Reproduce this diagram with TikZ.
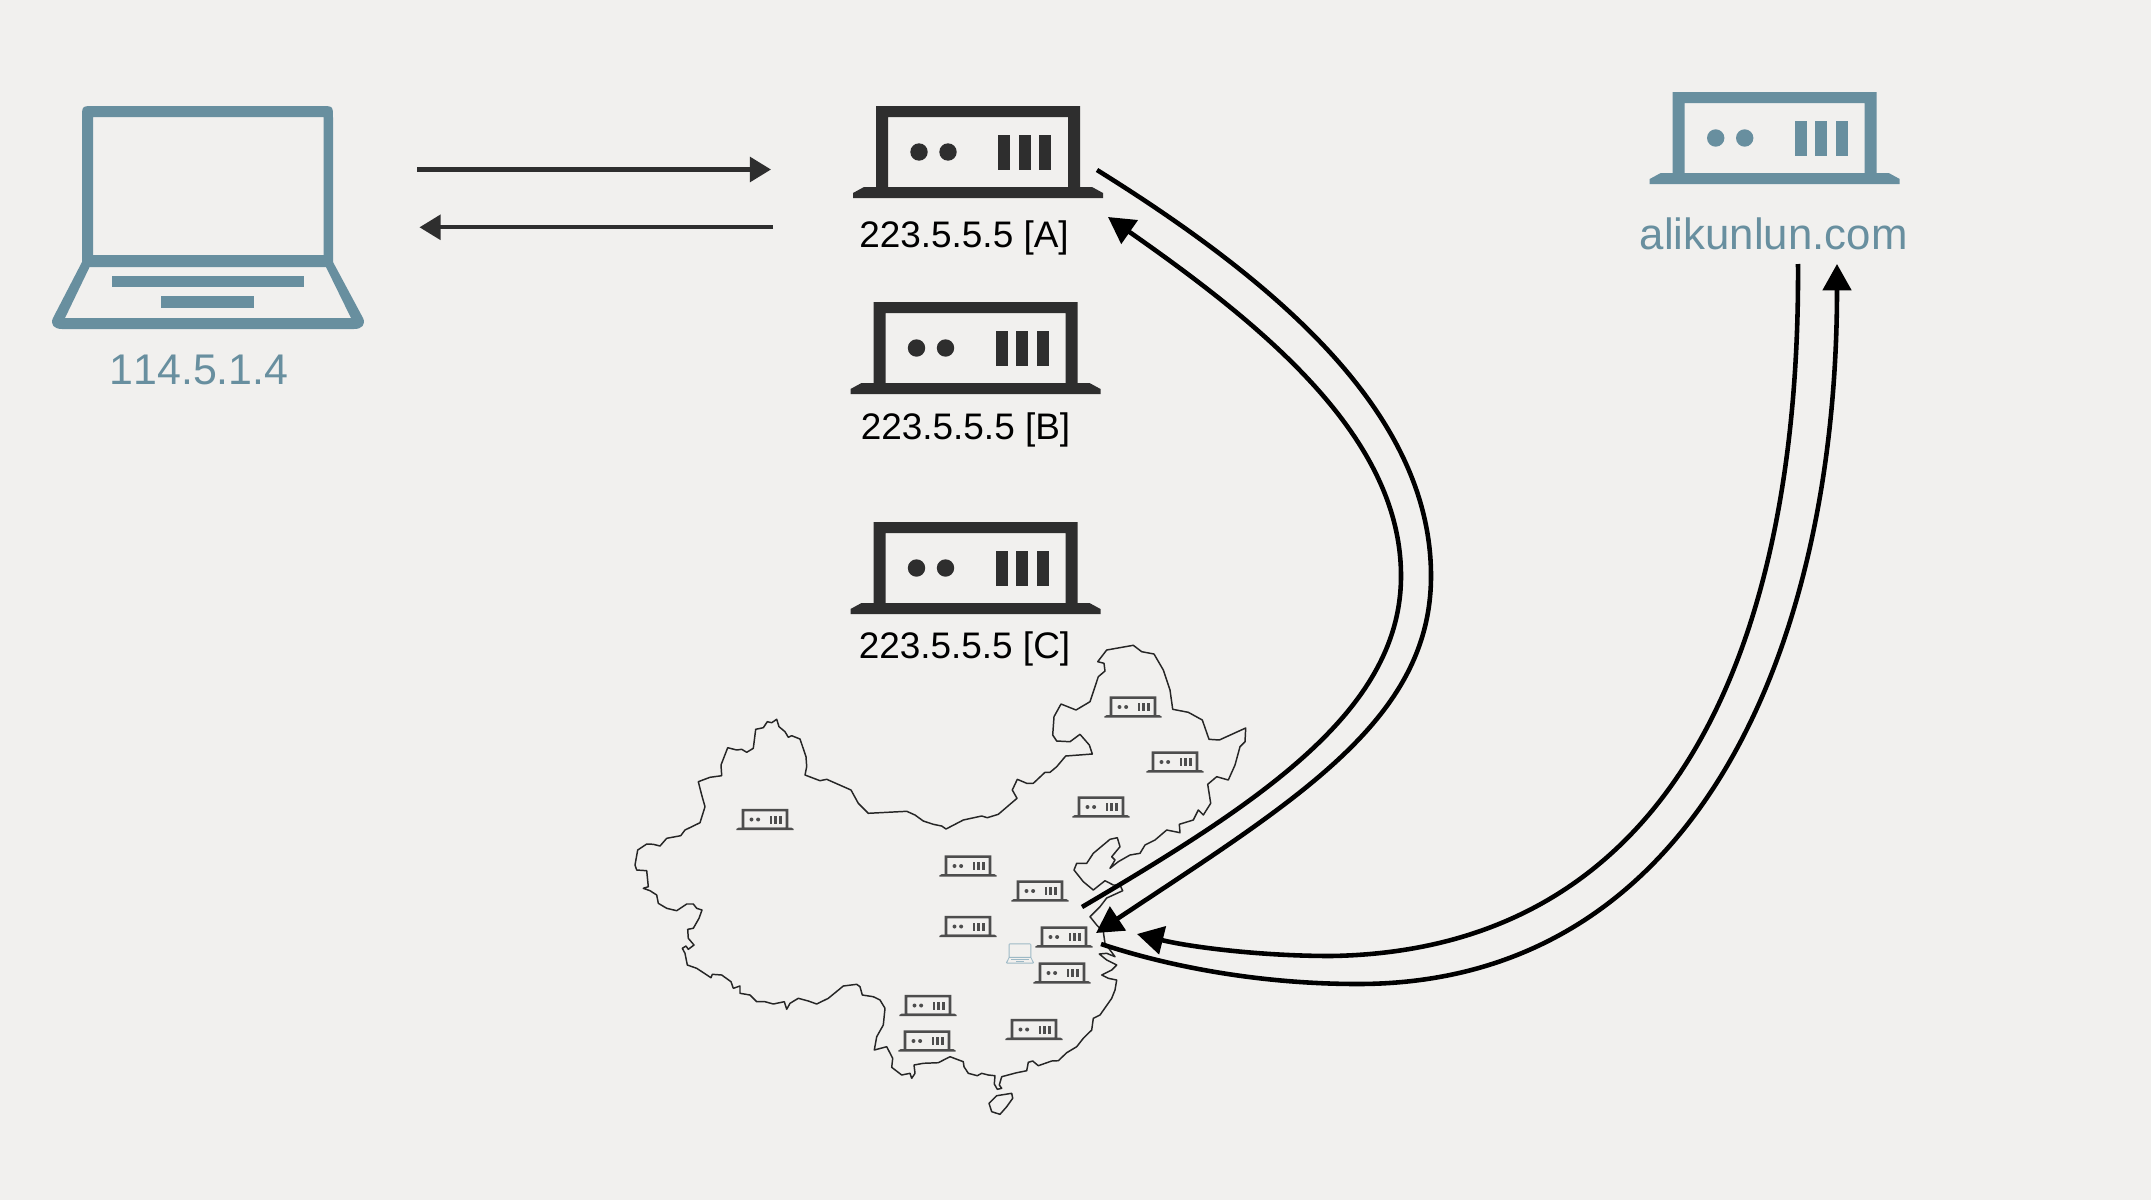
\documentclass[tikz,border=0pt]{standalone}
\usepackage{fontspec}
\setmainfont[Kerning=Off]{Liberation Sans}
\usetikzlibrary{arrows.meta}
\definecolor{paperbg}{HTML}{F1F0EE}
\definecolor{iconteal}{HTML}{688F9F}
\definecolor{icondark}{HTML}{2E2E2E}
\definecolor{iconpale}{HTML}{9DB9C6}
\tikzset{
  serverbox/.pic={
    \fill[even odd rule] (-102,-46) rectangle (102,36) (-90,-35) rectangle (90,35);
    \fill (-125,46) -- (-125,41) -- (-114,35) -- (114,35) -- (125,41) -- (125,46) -- cycle;
    \fill (-59,0) circle[radius=8.7];
    \fill (-30,0) circle[radius=8.7];
    \fill (20.3,-17) rectangle (32,18);
    \fill (40.7,-17) rectangle (52.7,18);
    \fill (61.3,-17) rectangle (73,18);
  },
  laptopbox/.pic={
    \fill[even odd rule] (-114,-111.5) -- (113,-111.5) .. controls (125,-111.5) .. (125,-99.5) -- (125,44.5) -- (155,100.5) .. controls (158,107) and (154,111.5) .. (146,111.5) -- (-146,111.5) .. controls (-154,111.5) and (-158,107) .. (-155,100.5) -- (-126,44.5) -- (-126,-99.5) .. controls (-126,-111.5) .. (-114,-111.5) -- cycle
      (-115,-100.5) rectangle (115.5,37.5)
      (-118.4,49.5) -- (118,49.5) -- (143,100.5) -- (-143,100.5) -- cycle;
    \fill (-96,58.2) rectangle (95.6,69.5);
    \fill (-47,78.5) rectangle (46,90.2);
  },
  serverlabel/.style={anchor=base,font=\fontsize{10.5}{12}\selectfont,text=black},
  hostlabel/.style={anchor=base,font=\fontsize{12.2}{14}\selectfont,text=iconteal},
  thinlink/.style={draw=icondark,line width=1.15pt},
  thinhead/.style={-{Triangle[length=6pt,width=7pt]}},
  biglink/.style={draw=black,line width=1.3pt},
  bighead/.style={-{Triangle[length=7.5pt,width=8pt]}},
  mapline/.style={draw=black!85,line width=0.42pt,line join=round}
}
\begin{document}
\begin{tikzpicture}[x=0.01cm,y=-0.01cm]
  \useasboundingbox (0,0) rectangle (2151,1200);
  \fill[paperbg] (0,0) rectangle (2151,1200);

  \pic (client) [color=iconteal] at (208,217.5) {laptopbox};
  \node[hostlabel] (clientlabel) at (199,384) {114.5.1.4};
  \pic (srvA) [color=icondark] at (978,152) {serverbox};
  \pic (srvB) [color=icondark] at (975.5,348) {serverbox};
  \pic (srvC) [color=icondark] at (975.5,568) {serverbox};
  \node[serverlabel] (labelA) at (964,247) {223.5.5.5 [A]};
  \node[serverlabel] (labelB) at (965.5,439) {223.5.5.5 [B]};
  \node[serverlabel] (labelC) at (964.5,658) {223.5.5.5 [C]};
  \pic (site) [color=iconteal] at (1774.7,138) {serverbox};
  \node[hostlabel,font=\fontsize{12.45}{14}\selectfont] (sitelabel) at (1773.7,249) {alikunlun.com};

  \coordinate (reqstart) at (417,169.5);
  \coordinate (reqend) at (771,169.5);
  \coordinate (respstart) at (773,227.3);
  \coordinate (respend) at (419.5,227.3);
  \draw[thinlink,thinhead] (reqstart) -- (reqend);
  \draw[thinlink,thinhead] (respstart) -- (respend);

  \draw[mapline] (776.7,719.3) -- (779,726.7) -- (785,731.7) -- (788.3,737.3) -- (791.7,735.7) -- (800,739) -- (806,756.7) -- (806.7,766.7) -- (805,775) -- (820,780.7) -- (826.7,779.3) -- (851,790) -- (858.3,803.3) -- (868.3,813.3) -- (906.7,811.3) -- (915,815) -- (923.3,821) -- (933.3,824.3) -- (941.7,826) -- (946,829) -- (963.3,820) -- (981.7,816) -- (987.3,817.7) -- (998.3,814.3) -- (1017,798.3) -- (1012.3,790) -- (1017.3,779.3) -- (1026.7,783.3) -- (1033.3,783.3) -- (1045,772.3) -- (1050,772.3) -- (1056.7,766.7) -- (1065.7,756) -- (1092.3,754)
    -- (1089.3,745) -- (1080,734.3) -- (1070,741.7) -- (1056.7,741) -- (1052.7,735) -- (1054,716.7) -- (1061,704) -- (1076,710) -- (1090,701.7) -- (1098.3,676.7) -- (1105,671) -- (1104,663.3) -- (1097.7,661.7) -- (1106.7,650) -- (1133.3,645.3) -- (1141.7,651.7) -- (1154,654) -- (1163.3,670) -- (1170,690) -- (1172.7,709.3) -- (1188.3,712.3) -- (1202.3,720) -- (1209,739.3) -- (1219.3,740) -- (1245.7,728) -- (1245,741.7) -- (1240,746.7) -- (1235,765) -- (1228.3,780) -- (1216.7,776.7) -- (1207.7,784.3) -- (1210.7,803.3) -- (1203.3,815) -- (1198.3,810) -- (1193.3,820) -- (1179.3,824.3) -- (1180,832.7) -- (1166.7,830) -- (1155,840) -- (1145,845) -- (1140,853.3) -- (1130,855) -- (1118.3,861.7) -- (1110,868.3) -- (1115,860) -- (1111.7,856.7) -- (1120,846.7) -- (1117.3,837.7) -- (1110,839.3) -- (1093.3,853.3) -- (1086.7,863.3) -- (1076.7,863.3) -- (1074,870) -- (1083.3,881.7) -- (1093.3,890) -- (1105,880.7) -- (1113.3,885) -- (1120,885) -- (1122.7,890.7)
    -- (1113.3,895) -- (1106.7,898) -- (1100,906.7) -- (1090,916.7) -- (1096.7,925) -- (1103.3,931.7) -- (1105,943.3) -- (1115,956.7) -- (1106.7,953.3) -- (1099.3,954) -- (1106.7,960) -- (1116.7,965) -- (1111.7,970) -- (1101.7,975) -- (1108.3,978.3) -- (1116.7,980) -- (1115,990) -- (1111.7,998.3) -- (1100,1015) -- (1093.3,1018.3) -- (1091.7,1030) -- (1083.3,1038.3) -- (1076.7,1046.7) -- (1066.7,1052.7) -- (1058.3,1060.7) -- (1051.7,1061) -- (1038.3,1065.7) -- (1032.7,1061) -- (1028.3,1062.3) -- (1026.7,1070.7) -- (1016.7,1072.7) -- (1001.7,1076.7) -- (999.3,1085) -- (1001.7,1088.3) -- (997.3,1089.3) -- (994.3,1084) -- (995,1075.7) -- (988.3,1075) -- (981.7,1073.3) -- (977.3,1075.7) -- (968.3,1073.3) -- (964,1066.7) -- (963.3,1061.7) -- (950,1056.7) -- (938.3,1062.7) -- (923.3,1063.3) -- (914,1065) -- (915,1073.3) -- (911.7,1078.3) -- (910,1073.3) -- (901.7,1075) -- (891.7,1067.3) -- (892.7,1058.3) -- (886.7,1046.7) -- (874.3,1050) -- (876.7,1036.7) -- (883.3,1025) -- (885,1008.3)
    -- (880,1000) -- (873.3,996.7) -- (862.3,995) -- (860,986.7) -- (856.7,984.3) -- (843.3,986) -- (828.3,998.3) -- (816.7,1004) -- (808.3,1001) -- (798.3,998.3) -- (790,1003.3) -- (786.7,1009.3) -- (784.3,1001.7) -- (773.3,1004) -- (765,1001.7) -- (756.7,1001.7) -- (750,995) -- (740,993.3) -- (740,986) -- (733.3,988.3) -- (731,981.7) -- (721.7,975) -- (712.3,974.3) -- (711,977.7) -- (696.7,968.3) -- (687.3,965) -- (685,953.3) -- (682.3,948.3) -- (686,946) -- (688.3,949.3) -- (694,945) -- (688.3,938.3) -- (687.7,929.3) -- (693.3,928.3) -- (699,918.3) -- (702,910) -- (696.7,908.3) -- (693.3,904) -- (686.7,904) -- (676.7,910.7) -- (666.7,908.3) -- (658.3,903.3) -- (656.7,895) -- (650,890.7) -- (643.3,888.3) -- (648.3,886.7) -- (646.7,870.7) -- (636.7,870) -- (635,865) -- (637.7,850) -- (646.7,844) -- (653.3,844.3) -- (660,846) -- (666.7,838.3) -- (680.7,835.7) -- (685,830) -- (700,822.7) -- (705,806.7) -- (701.7,795) -- (698.3,781.7) -- (710,777.3) -- (721.7,775.7) -- (721,765) -- (727.7,747.7) -- (736.7,750) -- (741.7,749.3) -- (746.7,752.3) -- (753.3,748.3) -- (755.7,729.3) -- (763.3,727.7) -- (767.3,721.7) -- (771.7,722.7) -- cycle;
  \draw[mapline] (1011.7,1093.3) -- (1012.7,1098.3) -- (1006.7,1106.7) -- (1000,1114.3) -- (991.7,1111.7) -- (989,1103.3) -- (996.7,1095.7) -- cycle;

  \foreach \n/\x/\y in {a/765/819.5,b/1133/707,c/1175/762,d/1101/807,e/968/866,f/1040/891,g/968/926.5,h/1064/937,i/1062/973,j/928/1005.5,k/927/1041,l/1034/1029.5}
    \pic (mapsrv\n) [color=icondark!85!white,scale=0.229] at (\x,\y) {serverbox};
  \pic (mapclient) [color=iconpale,scale=0.09] at (1020,953.5) {laptopbox};

  \coordinate (aout) at (1097,170);
  \coordinate (abend) at (1431,576);
  \coordinate (cnin) at (1096,933);
  \coordinate (cnout) at (1082,907);
  \coordinate (abackbend) at (1401,576);
  \coordinate (ain) at (1108,217);
  \draw[biglink,bighead] (aout) .. controls (1290,290) and (1431,420) .. (abend) .. controls (1431,720) and (1296,800) .. (cnin);
  \draw[biglink,bighead] (cnout) .. controls (1262,801) and (1401,710) .. (abackbend) .. controls (1401,440) and (1270,330) .. (ain);

  \coordinate (siteout) at (1798,264);
  \coordinate (sitebend) at (1331,956);
  \coordinate (cnin2) at (1137,934);
  \coordinate (cnout2) at (1101,944);
  \coordinate (sitebackbend) at (1358,984);
  \coordinate (sitein) at (1837,264);
  \draw[biglink,bighead] (siteout) .. controls (1800,600) and (1700,950) .. (sitebend) .. controls (1260,956) and (1190,947) .. (cnin2);
  \draw[biglink,bighead] (cnout2) .. controls (1180,970) and (1270,984) .. (sitebackbend) .. controls (1700,984) and (1837,640) .. (sitein);
\end{tikzpicture}
\end{document}
